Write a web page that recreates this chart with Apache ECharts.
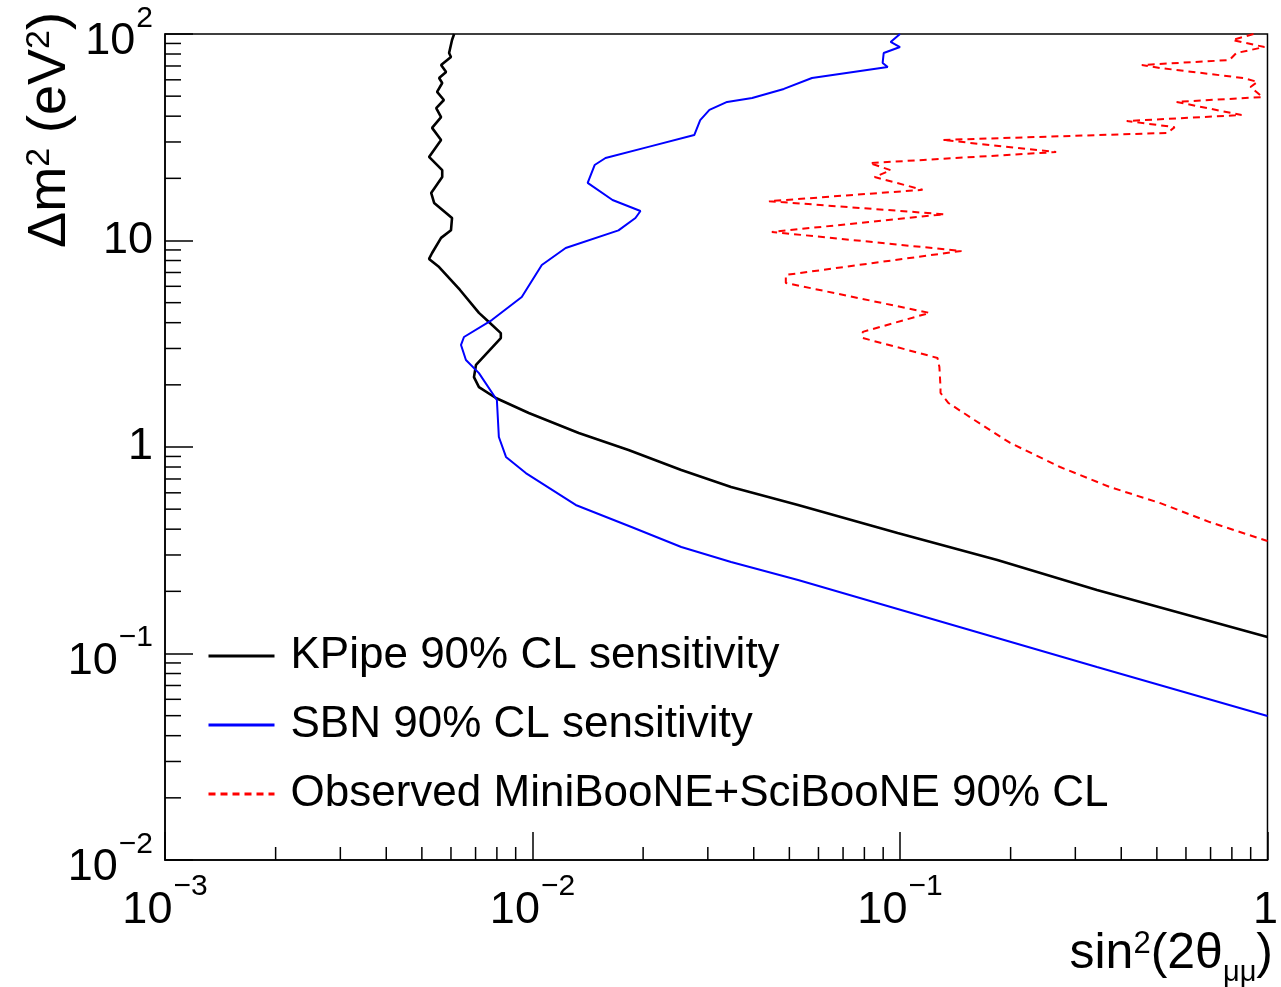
<!DOCTYPE html>
<html>
<head>
<meta charset="utf-8">
<script src="https://cdn.jsdelivr.net/npm/echarts@6/dist/echarts.min.js"></script>
<style>
html,body{margin:0;padding:0;background:#fff;}
#chart{width:1281px;height:987px;}
</style>
</head>
<body>
<div id="chart"></div>
<script>
// ---- Data: [sin^2(2theta), delta m^2 (eV^2)] ----
const kpipe = [
  [6.12e-3,100],[6.04e-3,93.5],[5.93e-3,80.9],[6.00e-3,77.4],[5.64e-3,70.8],[5.82e-3,65.5],
  [5.57e-3,61.2],[5.68e-3,57.9],[5.50e-3,52.4],[5.74e-3,47.9],[5.47e-3,43.8],[5.64e-3,39.6],
  [5.33e-3,35.1],[5.64e-3,30.7],[5.23e-3,25.4],[5.68e-3,21.9],[5.68e-3,20.3],[5.30e-3,17.0],
  [5.40e-3,15.2],[6.04e-3,12.85],[6.00e-3,11.2],[5.64e-3,10.3],[5.33e-3,8.70],[5.23e-3,8.14],
  [5.57e-3,7.44],[6.35e-3,5.76],[7.15e-3,4.46],[7.61e-3,4.03],[8.20e-3,3.56],[8.20e-3,3.37],
  [7.02e-3,2.50],[6.93e-3,2.18],[7.15e-3,1.95],[7.95e-3,1.727],[9.77e-3,1.461],[1.336e-2,1.169],
  [1.825e-2,0.967],[2.54e-2,0.774],[3.47e-2,0.640],[5.28e-2,0.524],[9.85e-2,0.383],
  [0.184,0.2836],[0.3435,0.203],[1.0,0.1202]
];
const sbn = [
  [0.1,100],[9.43e-2,91.5],[0.1,86.5],[9.03e-2,80.9],[8.97e-2,72.4],[9.26e-2,69.2],
  [5.76e-2,61.2],[4.83e-2,54.2],[3.96e-2,49.0],[3.385e-2,46.9],[3.03e-2,42.9],[2.86e-2,38.3],
  [2.755e-2,32.4],[2.068e-2,28.4],[1.58e-2,25.1],[1.476e-2,23.2],[1.413e-2,19.0],[1.651e-2,15.7],
  [1.967e-2,13.9],[1.906e-2,12.85],[1.714e-2,11.2],[1.231e-2,9.20],[1.060e-2,7.61],[9.35e-3,5.33],
  [7.75e-3,4.12],[6.51e-3,3.41],[6.39e-3,3.12],[6.59e-3,2.64],[7.15e-3,2.28],[8.00e-3,1.689],
  [8.10e-3,1.118],[8.47e-3,0.895],[9.59e-3,0.748],[1.311e-2,0.524],[1.859e-2,0.410],
  [2.54e-2,0.328],[3.47e-2,0.2774],[5.28e-2,0.2270],[0.3435,0.0860],[1.0,0.0498]
];
const observed = [
  [0.916,100],[0.803,93.5],[0.981,86.5],[0.823,80.9],[0.788,74.8],[0.455,70.8],[0.512,68.4],
  [0.860,61.2],[0.939,58.6],[0.899,55.4],[0.969,49.5],[0.566,46.9],[0.850,40.5],[0.414,37.9],
  [0.559,35.4],[0.535,33.2],[0.1305,30.7],[0.266,26.8],[0.0827,23.7],[0.0943,21.9],[0.0853,20.3],
  [0.1152,17.6],[0.0440,15.5],[0.1321,13.4],[0.0448,11.0],[0.1470,8.90],[0.0489,6.81],
  [0.0489,6.23],[0.1203,4.46],[0.0792,3.61],[0.0792,3.37],[0.1265,2.70],[0.1280,2.44],
  [0.1289,1.95],[0.1289,1.826],[0.1355,1.633],[0.1594,1.351],[0.1995,1.046],[0.2727,0.800],
  [0.3725,0.640],[0.509,0.536],[0.696,0.433],[1.0,0.3505]
];
const seriesNames = ['KPipe 90% CL sensitivity','SBN 90% CL sensitivity','Observed MiniBooNE+SciBooNE 90% CL'];
const xRange = [1e-3, 1];
const yRange = [1e-2, 100];
const xMajorExp = [-3,-2,-1,0];
const yMajorExp = [-2,-1,0,1,2];
const minorMultipliers = [2,3,4,5,6,7,8,9];

// minor ticks (axis decoration)
const minorTickData = [];
xMajorExp.slice(0,-1).forEach(e => minorMultipliers.forEach(m => minorTickData.push([m*Math.pow(10,e), yRange[0], 0])));
yMajorExp.slice(0,-1).forEach(e => minorMultipliers.forEach(m => minorTickData.push([xRange[0], m*Math.pow(10,e), 1])));

const FONT = "'Liberation Sans', Arial, Helvetica, sans-serif";
const labelRich = {
  b: {fontSize:45, lineHeight:45, fontFamily:FONT, color:'#000', verticalAlign:'bottom'},
  s: {fontSize:30, fontFamily:FONT, color:'#000', verticalAlign:'top', padding:[0,0,31,1]},
  one: {fontSize:45, fontFamily:FONT, color:'#000', padding:[16,4,0,0]}
};
function powLabel(v, isX) {
  const e = Math.round(Math.log10(v));
  if (e === 0) return isX ? '{one|1}' : '{b|1}';
  if (e === 1) return '{b|10}';
  return '{b|10}{s|' + (e < 0 ? '\u2212' : '') + Math.abs(e) + '}';
}

const chart = echarts.init(document.getElementById('chart'), null, {renderer:'canvas'});
chart.setOption({
  animation: false,
  backgroundColor: '#fff',
  grid: {left:165, top:34, right:10, bottom:127, show:true, borderColor:'#000', borderWidth:1.5, backgroundColor:'transparent'},
  xAxis: {
    type:'log', logBase:10, min:xRange[0], max:xRange[1],
    axisLine:{show:true, lineStyle:{color:'#000', width:1.5}},
    axisTick:{show:true, inside:true, length:28, lineStyle:{color:'#000', width:1.5}},
    splitLine:{show:false},
    axisLabel:{margin:12, showMinLabel:true, showMaxLabel:true, formatter: v => powLabel(v, true), rich:labelRich}
  },
  yAxis: {
    type:'log', logBase:10, min:yRange[0], max:yRange[1],
    axisLine:{show:true, lineStyle:{color:'#000', width:1.5}},
    axisTick:{show:true, inside:true, length:28, lineStyle:{color:'#000', width:1.5}},
    splitLine:{show:false},
    axisLabel:{margin:12, showMinLabel:true, showMaxLabel:true, formatter: v => powLabel(v, false), rich:labelRich}
  },
  legend: {
    orient:'vertical', left:207, top:631, padding:0, itemWidth:66, itemHeight:14, itemGap:19,
    data: seriesNames,
    itemStyle:{opacity:0},
    lineStyle:{width:3},
    textStyle:{fontSize:44, lineHeight:50, color:'#000', fontFamily:FONT, padding:[0,0,0,11]}
  },
  series: [
    {name:seriesNames[0], type:'line', data:kpipe, symbol:'none', lineStyle:{color:'#000', width:2.6}, itemStyle:{color:'#000'}, z:3},
    {name:seriesNames[1], type:'line', data:sbn, symbol:'none', lineStyle:{color:'#0000ff', width:2}, itemStyle:{color:'#0000ff'}, z:3},
    {name:seriesNames[2], type:'line', data:observed, symbol:'none', lineStyle:{color:'#ff0000', width:2, type:[7,5]}, itemStyle:{color:'#ff0000'}, z:3},
    {type:'custom', data:minorTickData, silent:true, clip:false, z:5,
     renderItem: (params, api) => {
       const kind = api.value(2);
       const p = api.coord([api.value(0), api.value(1)]);
       if (kind === 0) {
         return {type:'line', shape:{x1:p[0], y1:p[1], x2:p[0], y2:p[1]-13}, style:{stroke:'#000', lineWidth:1.5}};
       }
       return {type:'line', shape:{x1:p[0], y1:p[1], x2:p[0]+16, y2:p[1]}, style:{stroke:'#000', lineWidth:1.5}};
     }}
  ],
  graphic: [
    {type:'text', x:50, y:12, rotation:Math.PI/2,
     style:{text:'{b|\u0394m}{s|2}{b| (eV}{s|2}{b|)}', align:'right', verticalAlign:'middle',
       rich:{b:{fontSize:54, fontFamily:FONT, fill:'#000', color:'#000', verticalAlign:'bottom'},
             s:{fontSize:34, fontFamily:FONT, fill:'#000', color:'#000', verticalAlign:'top'}}}},
    {type:'text', x:1273, y:958,
     style:{text:'{b|sin}{s|2}{b|(2\u03b8}{d|\u03bc\u03bc}{b|)}', align:'right', verticalAlign:'middle',
       rich:{b:{fontSize:50, fontFamily:FONT, fill:'#000', color:'#000', verticalAlign:'bottom', padding:[0,0,8,0]},
             s:{fontSize:31, fontFamily:FONT, fill:'#000', color:'#000', verticalAlign:'top'},
             d:{fontSize:29, fontFamily:FONT, fill:'#000', color:'#000', verticalAlign:'bottom'}}}}
  ]
});
</script>
</body>
</html>
